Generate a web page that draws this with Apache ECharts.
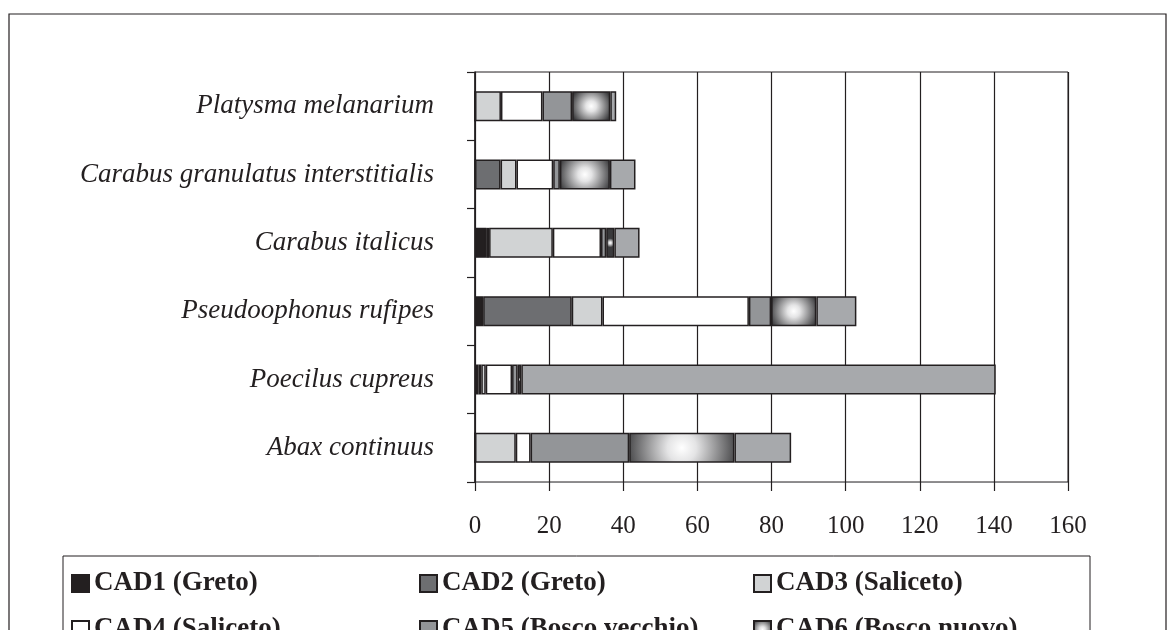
<!DOCTYPE html>
<html>
<head>
<meta charset="utf-8">
<script src="https://cdn.jsdelivr.net/npm/echarts@6/dist/echarts.min.js"></script>
<style>
html,body{margin:0;padding:0;background:#fff;}
#chart{width:1176px;height:630px;}
</style>
</head>
<body>
<div id="chart"></div>
<script>
const categories = ['Platysma melanarium', 'Carabus granulatus interstitialis', 'Carabus italicus', 'Pseudoophonus rufipes', 'Poecilus cupreus', 'Abax continuus'];
const seriesNames = ['CAD1 (Greto)', 'CAD2 (Greto)', 'CAD3 (Saliceto)', 'CAD4 (Saliceto)', 'CAD5 (Bosco vecchio)', 'CAD6 (Bosco nuovo)', 'CAD7'];
const cad1 = [0, 0, 3.0, 2.2, 1.0, 0];
const cad2 = [0, 6.9, 0.8, 23.9, 0.7, 0];
const cad3 = [7.0, 4.3, 17.2, 8.3, 1.2, 11.0];
const cad4 = [11.2, 9.9, 13.0, 39.5, 7.1, 4.0];
const cad5 = [8.0, 1.8, 1.4, 6.0, 1.5, 26.6];
const cad6 = [10.3, 13.5, 2.2, 12.2, 1.0, 28.4];
const cad7 = [1.6, 6.9, 6.8, 10.8, 128.0, 15.3];
const xTicks = [0, 20, 40, 60, 80, 100, 120, 140, 160];

const seriesValues = [cad1, cad2, cad3, cad4, cad5, cad6, cad7];
const dark = '#231f20';
const gradStops = [{offset: 0, color: '#ffffff'}, {offset: 0.25, color: '#e4e4e5'}, {offset: 1, color: '#3a3a3c'}];
const gradColor = function (p) {
  const r = Math.max(0.55, p.value * 0.068);
  return new echarts.graphic.RadialGradient(0.5, 0.5, r, gradStops);
};
const fills = ['#231f20', '#6d6e71', '#d1d3d4', '#ffffff', '#939598', gradColor, '#a7a9ac'];

const chart = echarts.init(document.getElementById('chart'), null, {renderer: 'canvas'});
const serif = '"Liberation Serif", "DejaVu Serif", serif';

const series = seriesValues.map(function (vals, i) {
  return {
    name: seriesNames[i],
    type: 'bar',
    stack: 'total',
    barWidth: 30,
    data: vals,
    itemStyle: {color: fills[i], borderColor: dark, borderWidth: 1.5},
    emphasis: {disabled: true}
  };
});

// legend layout: [series index, left, top]
const legendSlots = [[0, 71, 570], [1, 419, 570], [2, 753, 570], [3, 71, 616], [4, 419, 616], [5, 753, 616]];
const legends = legendSlots.map(function (s) {
  const item = s[0] === 5
    ? {name: seriesNames[5], itemStyle: {color: new echarts.graphic.RadialGradient(0.5, 0.5, 0.6, gradStops)}}
    : seriesNames[s[0]];
  return {
    orient: 'horizontal',
    left: s[1],
    top: s[2],
    padding: 0,
    itemWidth: 17,
    itemHeight: 17,
    icon: 'rect',
    selectedMode: false,
    data: [item],
    textStyle: {fontFamily: serif, fontWeight: 'bold', fontSize: 27, lineHeight: 27, color: dark}
  };
});

chart.setOption({
  animation: false,
  backgroundColor: '#ffffff',
  graphic: [
    {type: 'rect', shape: {x: 9, y: 14, width: 1157, height: 700}, style: {fill: 'none', stroke: dark, lineWidth: 1.2}, z: -10},
    {type: 'rect', shape: {x: 63, y: 556, width: 1027, height: 200}, style: {fill: 'none', stroke: dark, lineWidth: 1}, z: -10}
  ],
  legend: legends,
  grid: {left: 475, right: 108, top: 72, bottom: 148, show: true, borderColor: dark, borderWidth: 1, backgroundColor: 'transparent'},
  xAxis: {
    type: 'value',
    min: 0,
    max: 160,
    interval: 20,
    axisLine: {show: true, lineStyle: {color: '#8a8a8c', width: 1}},
    axisTick: {show: true, length: 9, lineStyle: {color: dark, width: 1.2}},
    splitLine: {show: true, lineStyle: {color: dark, width: 1.2}},
    axisLabel: {margin: 32, fontFamily: serif, fontSize: 25, color: dark,
      formatter: function (v) { return xTicks.indexOf(v) >= 0 ? String(v) : ''; }}
  },
  yAxis: {
    type: 'category',
    inverse: true,
    data: categories,
    axisLine: {show: true, lineStyle: {color: dark, width: 1.5}},
    axisTick: {show: true, length: 8, lineStyle: {color: dark, width: 1.2}},
    axisLabel: {margin: 41, fontFamily: serif, fontStyle: 'italic', fontSize: 27, color: dark}
  },
  series: series
});
</script>
</body>
</html>
